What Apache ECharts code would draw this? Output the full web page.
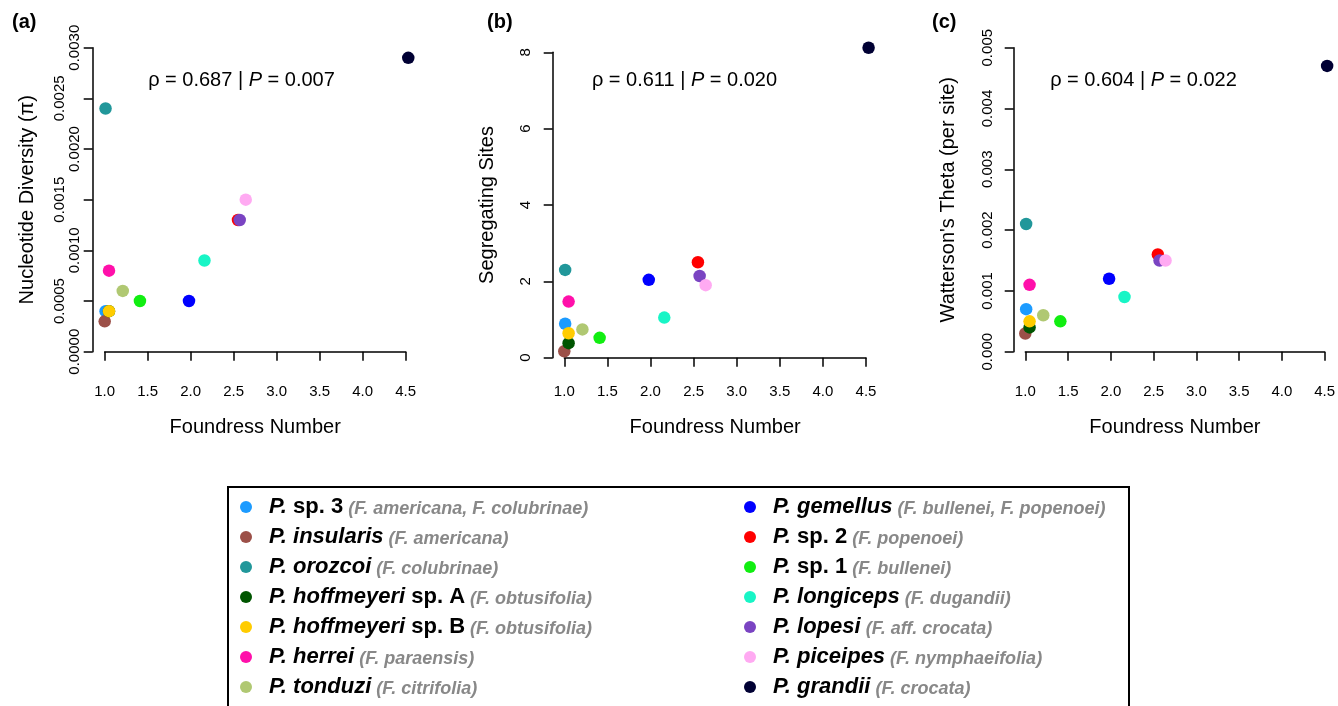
<!DOCTYPE html>
<html>
<head>
<meta charset="utf-8">
<script src="https://cdn.jsdelivr.net/npm/echarts@6.0.0/dist/echarts.min.js"></script>
<style>
  body { margin: 0; background: #fff; }
  #main { width: 1338px; height: 706px; }
</style>
</head>
<body>
<div id="main"></div>
<script>
// species, in legend / drawing order
const speciesEpithet = ['', 'insularis', 'orozcoi', 'hoffmeyeri', 'hoffmeyeri', 'herrei', 'tonduzi',
    'gemellus', '', '', 'longiceps', 'lopesi', 'piceipes', 'grandii'];
const speciesTag = ['sp. 3', '', '', 'sp. A', 'sp. B', '', '', '', 'sp. 2', 'sp. 1', '', '', '', ''];
const hosts = ['(F. americana, F. colubrinae)', '(F. americana)', '(F. colubrinae)', '(F. obtusifolia)',
    '(F. obtusifolia)', '(F. paraensis)', '(F. citrifolia)', '(F. bullenei, F. popenoei)', '(F. popenoei)',
    '(F. bullenei)', '(F. dugandii)', '(F. aff. crocata)', '(F. nymphaeifolia)', '(F. crocata)'];
const colors = ['#1c9bff', '#9c5048', '#21979a', '#005500', '#ffcc00', '#ff10aa', '#b0c872',
    '#0000ff', '#ff0000', '#11ee11', '#18f5c6', '#7a44c2', '#ffaaf2', '#000033'];

// values
const foundress = [1.01, 1.0, 1.01, 1.05, 1.05, 1.05, 1.21, 1.98, 2.55, 1.41, 2.16, 2.57, 2.64, 4.53];
const nucDiversity = [0.0004, 0.0003, 0.0024, 0.0004, 0.0004, 0.0008, 0.0006, 0.0005, 0.0013, 0.0005,
    0.0009, 0.0013, 0.0015, 0.0029];
const segSites = [0.89, 0.17, 2.30, 0.38, 0.64, 1.47, 0.74, 2.04, 2.50, 0.52, 1.05, 2.14, 1.90, 8.12];
const wattersonTheta = [0.0007, 0.0003, 0.0021, 0.0004, 0.0005, 0.0011, 0.0006, 0.0012, 0.0016, 0.0005,
    0.0009, 0.0015, 0.0015, 0.0047];

const xTicks = { min: 1, max: 4.5, interval: 0.5 };
const stats = [
    { rho: '0.687', p: '0.007' },
    { rho: '0.611', p: '0.020' },
    { rho: '0.604', p: '0.022' }
];

const species = speciesEpithet.map((e, i) => ['P.', e, speciesTag[i]].filter(s => s).join(' '));

const FONT = 'Liberation Sans, Arial, sans-serif';

// panel geometry (pixels)
const panels = [
    { left: 104.7, top: 47.7, width: 301, height: 304, xOff: 12.3, yOff: 12 },
    { left: 564.3, top: 52.3, width: 301.7, height: 305.4, xOff: 6.3, yOff: 11.6 },
    { left: 1025.3, top: 47.7, width: 301.4, height: 304, xOff: 12.3, yOff: 11.6 }
];

const axisStyle = {
    axisLine: { show: true, lineStyle: { color: '#000', width: 1.5 } },
    axisTick: { show: true, inside: false, length: 9, lineStyle: { color: '#000', width: 1.5 } },
    splitLine: { show: false }
};

const grid = panels.map(p => ({ left: p.left, top: p.top, width: p.width, height: p.height }));

const xAxis = panels.map((p, i) => Object.assign({
    type: 'value', gridIndex: i, position: 'bottom', offset: p.xOff,
    min: xTicks.min, max: xTicks.max, interval: xTicks.interval,
    name: 'Foundress Number', nameLocation: 'middle', nameGap: 53,
    nameTextStyle: { fontFamily: FONT, fontSize: 20, color: '#000' },
    axisLabel: { margin: 20, fontFamily: FONT, fontSize: 15, color: '#000', formatter: v => v.toFixed(1) }
}, axisStyle));

const yName = { nameLocation: 'middle', nameGap: 55, nameTextStyle: { fontFamily: FONT, fontSize: 20, color: '#000' } };
const yLabel = { rotate: 90, fontFamily: FONT, fontSize: 15, color: '#000' };

const yAxis = [
    // (a) even labels close to the axis
    Object.assign({
        type: 'value', gridIndex: 0, position: 'left', offset: panels[0].yOff,
        min: 0, max: 0.003, interval: 0.0005, name: 'Nucleotide Diversity (\u03c0)',
        axisLabel: Object.assign({ margin: 10, formatter: v => Math.round(v / 0.0005) % 2 === 0 ? v.toFixed(4) : '' }, yLabel)
    }, yName, axisStyle),
    // (a) odd labels staggered further out
    {
        type: 'value', gridIndex: 0, position: 'left', offset: panels[0].yOff,
        min: 0, max: 0.003, interval: 0.0005,
        axisLine: { show: false }, axisTick: { show: false }, splitLine: { show: false },
        axisLabel: Object.assign({ margin: 25, formatter: v => Math.round(v / 0.0005) % 2 === 1 ? v.toFixed(4) : '' }, yLabel)
    },
    Object.assign({
        type: 'value', gridIndex: 1, position: 'left', offset: panels[1].yOff,
        min: 0, max: 8, interval: 2, name: 'Segregating Sites',
        axisLabel: Object.assign({ margin: 19, formatter: v => String(v) }, yLabel)
    }, yName, axisStyle),
    Object.assign({
        type: 'value', gridIndex: 2, position: 'left', offset: panels[2].yOff,
        min: 0, max: 0.005, interval: 0.001, name: "Watterson's Theta (per site)",
        axisLabel: Object.assign({ margin: 18, formatter: v => v.toFixed(3) }, yLabel)
    }, yName, axisStyle)
];

const panelValues = [nucDiversity, segSites, wattersonTheta];
const panelYAxis = [0, 2, 3];

const series = [];
panelValues.forEach((vals, g) => {
    species.forEach((name, i) => {
        series.push({
            type: 'scatter', name: name, xAxisIndex: g, yAxisIndex: panelYAxis[g],
            symbol: 'circle', symbolSize: 12.5, clip: false,
            itemStyle: { color: colors[i], opacity: 1 },
            emphasis: { disabled: true },
            data: [[foundress[i], vals[i]]]
        });
    });
});

const legendRich = {
    g: { fontFamily: FONT, fontSize: 22, fontWeight: 'bold', fontStyle: 'italic', color: '#000', verticalAlign: 'bottom' },
    e: { fontFamily: FONT, fontSize: 22, fontWeight: 'bold', fontStyle: 'italic', color: '#000', verticalAlign: 'bottom' },
    s: { fontFamily: FONT, fontSize: 22, fontWeight: 'bold', color: '#000', verticalAlign: 'bottom' },
    h: { fontFamily: FONT, fontSize: 18, fontWeight: 'bold', fontStyle: 'italic', color: '#888', verticalAlign: 'bottom' }
};

const legendFormatter = name => {
    const i = species.indexOf(name);
    let s = '{g|P.}';
    if (speciesEpithet[i]) s += '{e| ' + speciesEpithet[i] + '}';
    if (speciesTag[i]) s += '{s| ' + speciesTag[i] + '}';
    return s + '{h| ' + hosts[i] + '}';
};

const legendBase = {
    orient: 'vertical', icon: 'circle', itemWidth: 36, itemHeight: 12, itemGap: 8, padding: 0,
    height: 240, selectedMode: false, formatter: legendFormatter,
    textStyle: { fontFamily: FONT, fontSize: 22, rich: legendRich }
};

const statRich = {
    n: { fontFamily: FONT, fontSize: 20, color: '#000' },
    i: { fontFamily: FONT, fontSize: 20, fontStyle: 'italic', color: '#000' }
};

const panelLetters = ['(a)', '(b)', '(c)'];
const letterX = [12, 487, 932];
const statX = [241.5, 684.5, 1143.5];

const graphic = [
    { type: 'rect', shape: { x: 228, y: 487, width: 901, height: 240 },
      style: { fill: 'none', stroke: '#000', lineWidth: 2 }, silent: true }
];
panelLetters.forEach((t, i) => {
    graphic.push({ type: 'text', x: letterX[i], y: 22,
        style: { text: t, fontFamily: FONT, fontSize: 20, fontWeight: 'bold', fill: '#000', verticalAlign: 'middle' } });
    graphic.push({ type: 'text', x: statX[i], y: 80,
        style: { text: '{n|\u03c1 = ' + stats[i].rho + ' | }{i|P}{n| = ' + stats[i].p + '}', rich: statRich,
            align: 'center', verticalAlign: 'middle' } });
});

const myChart = echarts.init(document.getElementById('main'));

const option = {
    backgroundColor: '#fff',
    animation: false,
    grid: grid,
    xAxis: xAxis,
    yAxis: yAxis,
    legend: [
        Object.assign({ data: species.slice(0, 7), left: 240, top: 496 }, legendBase),
        Object.assign({ data: species.slice(7), left: 744, top: 496 }, legendBase)
    ],
    graphic: graphic,
    series: series
};

myChart.setOption(option);
</script>
</body>
</html>
